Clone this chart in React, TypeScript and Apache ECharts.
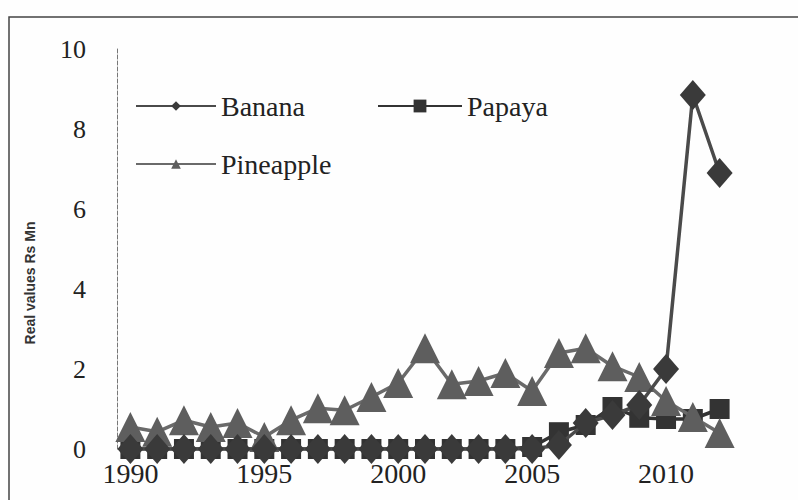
import React, { useEffect, useRef } from "react";
import * as echarts from "echarts";

const years = [
  "1990", "1991", "1992", "1993", "1994", "1995", "1996", "1997", "1998", "1999",
  "2000", "2001", "2002", "2003", "2004", "2005", "2006", "2007", "2008", "2009",
  "2010", "2011", "2012",
];
const banana = [0, 0, 0, 0, 0, 0, 0, 0, 0, 0, 0, 0, 0, 0, 0, 0, 0.1, 0.65, 0.85, 1.1, 2.0, 8.85, 6.9];
const papaya = [0, 0, 0, 0, 0, 0, 0, 0, 0, 0, 0, 0, 0, 0, 0, 0.05, 0.42, 0.6, 1.05, 0.78, 0.75, 0.75, 1.0];
const pineapple = [0.55, 0.43, 0.72, 0.55, 0.65, 0.3, 0.72, 1.02, 0.97, 1.3, 1.65, 2.52, 1.62, 1.7, 1.9, 1.45, 2.4, 2.52, 2.07, 1.8, 1.2, 0.8, 0.4];
const yTicks = { min: 0, max: 10, interval: 2 };
const yAxisTitle = "Real values Rs Mn";

const serif = "'Liberation Serif', 'Times New Roman', serif";

export default function App() {
  const ref = useRef<HTMLDivElement>(null);
  useEffect(() => {
    if (!ref.current) return;
    const chart = echarts.init(ref.current, null, { renderer: "svg" });
    const legendText = { fontFamily: serif, fontSize: 28, color: "#222" };
    chart.setOption({
      animation: false,
      backgroundColor: "#fefefe",
      grid: { left: 117, top: 49, width: 616, height: 400, containLabel: false },
      xAxis: {
        type: "category",
        data: years,
        boundaryGap: true,
        axisLine: { show: false },
        axisTick: { show: false },
        axisLabel: {
          interval: 4,
          margin: 10,
          fontFamily: serif,
          fontSize: 28,
          color: "#222",
        },
        splitLine: { show: false },
      },
      yAxis: {
        type: "value",
        min: yTicks.min,
        max: yTicks.max,
        interval: yTicks.interval,
        axisLine: { show: true, lineStyle: { type: "dashed", color: "#777", width: 1 } },
        axisTick: { show: false },
        splitLine: { show: false },
        axisLabel: { margin: 31, fontFamily: serif, fontSize: 26, color: "#222" },
      },
      legend: [
        {
          data: ["Banana"], left: 135, top: 92, padding: 0, itemWidth: 80, itemHeight: 12,
          textStyle: legendText, itemGap: 0,
        },
        {
          data: ["Papaya"], left: 377, top: 92, padding: 0, itemWidth: 84, itemHeight: 16,
          textStyle: legendText, itemGap: 0,
        },
        {
          data: ["Pineapple"], left: 135, top: 150, padding: 0, itemWidth: 80, itemHeight: 12,
          textStyle: legendText, itemGap: 0,
        },
      ],
      graphic: [
        {
          type: "rect",
          shape: { x: 9, y: 17, width: 900, height: 600 },
          style: { fill: "none", stroke: "#444", lineWidth: 1.5 },
          silent: true,
        },
        {
          type: "text",
          x: 30,
          y: 283,
          rotation: Math.PI / 2,
          style: {
            text: yAxisTitle,
            fontFamily: "'Liberation Sans', Arial, sans-serif",
            fontWeight: "bold",
            fontSize: 14,
            fill: "#333",
            align: "center",
            verticalAlign: "middle",
          },
        },
      ],
      series: [
        {
          name: "Banana",
          type: "line",
          data: banana,
          symbol: "diamond",
          symbolSize: [26, 30],
          showSymbol: true,
          showAllSymbol: true,
          lineStyle: { color: "#4a4a4a", width: 3.5 },
          itemStyle: { color: "#3a3a3a" },
          z: 5,
        },
        {
          name: "Papaya",
          type: "line",
          data: papaya,
          symbol: "rect",
          symbolSize: [20, 20],
          showSymbol: true,
          showAllSymbol: true,
          lineStyle: { color: "#333", width: 3.5 },
          itemStyle: { color: "#333" },
          z: 3,
        },
        {
          name: "Pineapple",
          type: "line",
          data: pineapple,
          symbol: "triangle",
          symbolSize: [30, 30],
          showSymbol: true,
          showAllSymbol: true,
          lineStyle: { color: "#6a6a6a", width: 3.5 },
          itemStyle: { color: "#5e5e5e" },
          z: 4,
        },
      ],
    });
    return () => chart.dispose();
  }, []);
  return (
    <div
      ref={ref}
      style={{ position: "absolute", left: 0, top: 0, width: 798, height: 500 }}
    />
  );
}
